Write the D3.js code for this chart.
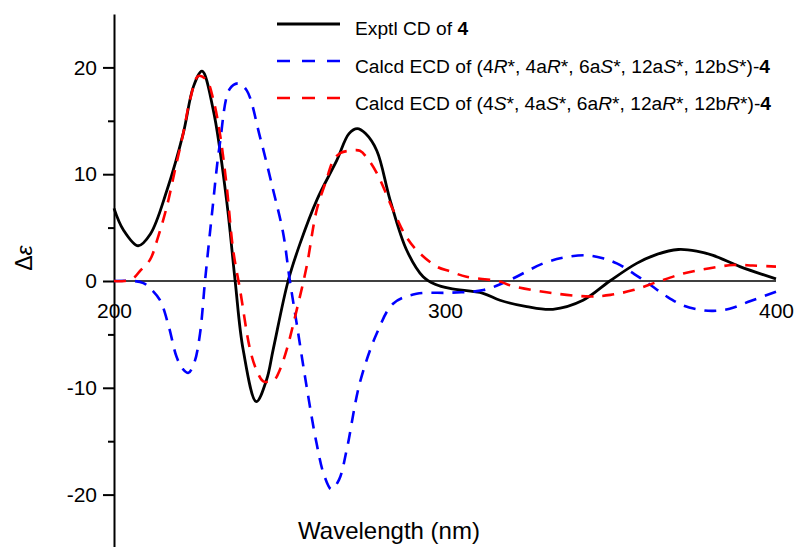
<!DOCTYPE html>
<html>
<head>
<meta charset="utf-8">
<script src="https://cdn.jsdelivr.net/npm/d3@7"></script>
<style>
  html, body { margin: 0; padding: 0; background: #fff; }
  svg { display: block; font-family: "Liberation Sans", Arial, sans-serif; }
</style>
</head>
<body>
<svg id="chart" width="795" height="547"></svg>
<script>
// ---- data ----
const exptlWl = [200, 202.8, 207.3, 211, 216, 220.9, 224, 226.6, 230, 234, 236.6, 239, 243, 246.1, 248.1, 252.6, 256.2, 261.3, 267.3, 271, 273.5, 276, 279.4, 283.4, 288.4, 293.4, 297, 301.5, 311.5, 316.6, 324.7, 332.6, 341.7, 349.8, 357.9, 364, 370.5, 376, 381, 389.1, 400];
const exptlVal = [6.8, 4.8, 3.3, 4.4, 8.5, 13.8, 18.2, 19.65, 16, 7.6, 0, -6.4, -11.3, -9.25, -6.4, 0, 3.5, 7.6, 11.3, 13.8, 14.27, 13.8, 12.2, 7.6, 2.9, 0.4, -0.3, -0.7, -1.15, -1.8, -2.4, -2.65, -1.8, 0, 1.65, 2.5, 2.95, 2.8, 2.4, 1.35, 0.2];

const calcAWl = [200, 206, 208.9, 211, 213.9, 216.5, 218.9, 220.7, 222.5, 224.3, 226, 227.5, 229.5, 232, 235, 237.6, 240.1, 244.1, 248.1, 251.1, 253, 255.2, 258.2, 261.2, 263.5, 265.7, 268, 270.3, 274.3, 279.4, 284.4, 291.4, 301.5, 311.6, 319.6, 329.7, 336, 342.8, 348, 351.9, 359.9, 367, 372, 377, 381, 386, 392.1, 400];
const calcAVal = [0, 0, -0.2, -0.7, -1.8, -4.2, -7.1, -8.2, -8.6, -7.6, -4.9, 0, 6.0, 12.9, 18, 18.5, 17.85, 13.5, 8.5, 4.5, 0.3, -4.0, -9.9, -15.2, -18.2, -19.5, -18.6, -15.8, -9.5, -4.9, -2.1, -1.2, -1.1, -0.85, 0.1, 1.65, 2.2, 2.4, 2.1, 1.65, 0.1, -1.45, -2.3, -2.7, -2.8, -2.6, -1.9, -1.0];

const calcBWl = [200, 203, 205.8, 208, 210.9, 213, 215.9, 218.5, 220.9, 223, 225.5, 228, 230, 232, 234, 236, 238.1, 241.1, 243, 245.1, 247.1, 248.5, 250, 252.2, 255.2, 258.2, 261.2, 264, 266.3, 268.5, 271.3, 274.3, 276.5, 279.4, 284.4, 288, 291.4, 297.5, 301.5, 306.5, 316.6, 319.6, 331.7, 343.8, 350, 356.9, 364, 372, 380, 387.1, 393, 400];
const calcBVal = [0, 0, 0.25, 1.0, 2.0, 3.8, 6.9, 10.5, 13.8, 17, 19.2, 18.8, 17, 13.8, 9, 2.9, -0.85, -6.4, -8.3, -9.4, -9.4, -9.25, -8.4, -6.4, -2.7, 1.35, 6.6, 9.3, 11.3, 12.0, 12.2, 12.2, 11.5, 10.1, 6.6, 4.3, 2.9, 1.35, 0.9, 0.4, -0.05, -0.4, -1.1, -1.45, -1.3, -0.85, -0.1, 0.7, 1.2, 1.5, 1.45, 1.35];

const yMajorTicks = [-20, -10, 0, 10, 20];
const yMinorTicks = [-15, -5, 5, 15];
const xTicks = [200, 300, 400];

const legendLabels = [
  [["Exptl CD of ", ""], ["4", "b"]],
  [["Calcd ECD of (4", ""], ["R", "i"], ["*, 4a", ""], ["R", "i"], ["*, 6a", ""], ["S", "i"], ["*, 12a", ""], ["S", "i"], ["*, 12b", ""], ["S", "i"], ["*)-", ""], ["4", "b"]],
  [["Calcd ECD of (4", ""], ["S", "i"], ["*, 4a", ""], ["S", "i"], ["*, 6a", ""], ["R", "i"], ["*, 12a", ""], ["R", "i"], ["*, 12b", ""], ["R", "i"], ["*)-", ""], ["4", "b"]]
];

// ---- drawing ----
const svg = d3.select("#chart");
const x = d3.scaleLinear().domain([200, 400]).range([114, 776]);
const y = d3.scaleLinear().domain([-25, 25]).range([548, 14]);
const fmt = d => String(d);

// zero line
svg.append("line")
  .attr("x1", x(200)).attr("x2", x(400))
  .attr("y1", y(0)).attr("y2", y(0))
  .attr("stroke", "#000").attr("stroke-width", 1.6);

// x tick labels
const xAxis = d3.axisBottom(x).tickValues(xTicks).tickSize(0).tickPadding(0).tickFormat(fmt);
const gx = svg.append("g").attr("transform", `translate(0,${y(0)})`).call(xAxis);
gx.select(".domain").remove();
gx.selectAll("text").attr("dy", null).attr("y", 37)
  .attr("font-size", 21).attr("font-family", "'Liberation Sans', Arial, sans-serif").attr("fill", "#000");

// y axis
const yAxis = d3.axisLeft(y).tickValues(yMajorTicks).tickSize(11).tickSizeOuter(0).tickPadding(6).tickFormat(fmt);
const gy = svg.append("g").attr("transform", `translate(${x(200)},0)`).call(yAxis);
gy.select(".domain").attr("stroke-width", 2);
gy.selectAll(".tick line").attr("stroke-width", 2);
gy.selectAll("text").attr("font-size", 21).attr("font-family", "'Liberation Sans', Arial, sans-serif").attr("fill", "#000");
const yMinor = d3.axisLeft(y).tickValues(yMinorTicks).tickSize(6).tickFormat("");
const gym = svg.append("g").attr("transform", `translate(${x(200)},0)`).call(yMinor);
gym.select(".domain").remove();
gym.selectAll(".tick line").attr("stroke-width", 2);

// axis titles
svg.append("text")
  .attr("x", 389).attr("y", 539)
  .attr("text-anchor", "middle")
  .attr("font-size", 24)
  .text("Wavelength (nm)");
const yt = svg.append("text")
  .attr("transform", "translate(32,258) rotate(-90)")
  .attr("text-anchor", "middle")
  .attr("font-size", 23);
yt.append("tspan").text("Δ");
yt.append("tspan").attr("font-style", "italic").text("ε");

// curves
const line = d3.line().x(d => x(d[0])).y(d => y(d[1])).curve(d3.curveCatmullRom.alpha(0.5));
const series = [
  { wl: exptlWl, val: exptlVal, color: "#000000", dash: null, width: 2.8 },
  { wl: calcAWl, val: calcAVal, color: "#0000ff", dash: "12,9", width: 2.6 },
  { wl: calcBWl, val: calcBVal, color: "#ff0000", dash: "12,9", width: 2.6 }
];
series.forEach(s => {
  const pts = s.wl.map((w, i) => [w, s.val[i]]);
  svg.append("path")
    .datum(pts)
    .attr("d", line)
    .attr("fill", "none")
    .attr("stroke", s.color)
    .attr("stroke-width", s.width)
    .attr("stroke-dasharray", s.dash);
});

// legend
const legY = [24, 61, 98];
const legBase = [35, 73, 110];
series.forEach((s, i) => {
  svg.append("line")
    .attr("x1", 277).attr("x2", 340)
    .attr("y1", legY[i]).attr("y2", legY[i])
    .attr("stroke", s.color)
    .attr("stroke-width", s.width)
    .attr("stroke-dasharray", s.dash ? "13,12" : null);
  const t = svg.append("text").attr("x", 355).attr("y", legBase[i]).attr("font-size", 19.2);
  legendLabels[i].forEach(seg => {
    const sp = t.append("tspan").text(seg[0]);
    if (seg[1] === "b") sp.attr("font-weight", "bold");
    if (seg[1] === "i") sp.attr("font-style", "italic");
  });
});
</script>
</body>
</html>
